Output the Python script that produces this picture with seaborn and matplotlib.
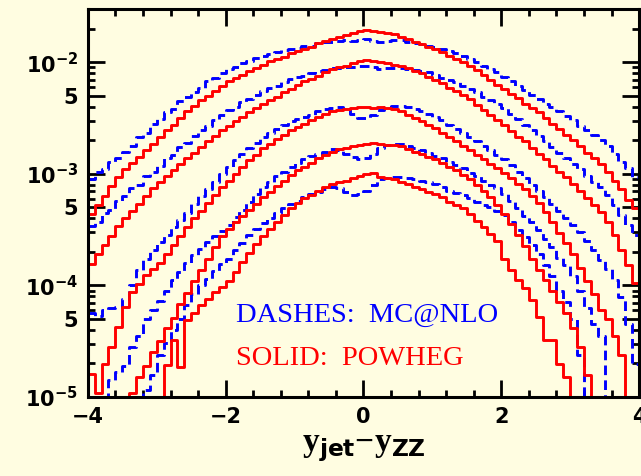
import numpy as np
import matplotlib
matplotlib.use("Agg")
import matplotlib.pyplot as plt
import seaborn as sns
from matplotlib.ticker import FixedLocator, FixedFormatter

# log10 of bin contents, 80 bins of width 0.1 on [-4, 4]; EMPTY = no entries
EMPTY = -9.0

powheg_1 = [-3.36, -3.28, -3.20, -3.11, -3.03, -2.96, -2.90, -2.85, -2.79, -2.73,
            -2.67, -2.61, -2.56, -2.50, -2.44, -2.39, -2.34, -2.30, -2.26, -2.21,
            -2.17, -2.14, -2.11, -2.08, -2.05, -2.02, -1.99, -1.97, -1.95, -1.92,
            -1.90, -1.88, -1.86, -1.83, -1.81, -1.79, -1.77, -1.76, -1.74, -1.72,
            -1.71, -1.72, -1.73, -1.74, -1.75, -1.77, -1.79, -1.82, -1.84, -1.86,
            -1.88, -1.91, -1.94, -1.97, -2.00, -2.03, -2.07, -2.11, -2.16, -2.20,
            -2.24, -2.28, -2.32, -2.37, -2.41, -2.45, -2.50, -2.55, -2.60, -2.65,
            -2.70, -2.75, -2.81, -2.86, -2.91, -2.98, -3.06, -3.14, -3.23, -3.31]
mcnlo_1 = [-3.05, -2.98, -2.96, -2.89, -2.86, -2.80, -2.75, -2.67, -2.63, -2.55,
           -2.51, -2.45, -2.42, -2.35, -2.31, -2.27, -2.23, -2.17, -2.14, -2.10,
           -2.06, -2.04, -2.01, -1.99, -1.96, -1.94, -1.93, -1.91, -1.89, -1.88,
           -1.87, -1.85, -1.85, -1.83, -1.82, -1.82, -1.81, -1.80, -1.81, -1.80,
           -1.79, -1.81, -1.82, -1.81, -1.80, -1.80, -1.82, -1.83, -1.84, -1.85,
           -1.86, -1.88, -1.90, -1.92, -1.94, -1.97, -2.00, -2.03, -2.06, -2.09,
           -2.13, -2.17, -2.21, -2.25, -2.29, -2.33, -2.37, -2.40, -2.44, -2.48,
           -2.52, -2.57, -2.61, -2.65, -2.70, -2.75, -2.82, -2.89, -2.95, -3.03]
powheg_2 = [-3.81, -3.72, -3.64, -3.56, -3.47, -3.40, -3.33, -3.27, -3.20, -3.13,
            -3.07, -3.02, -2.97, -2.91, -2.86, -2.81, -2.76, -2.71, -2.66, -2.61,
            -2.57, -2.53, -2.49, -2.45, -2.41, -2.37, -2.34, -2.31, -2.27, -2.24,
            -2.20, -2.17, -2.15, -2.12, -2.09, -2.06, -2.04, -2.03, -2.01, -1.99,
            -1.98, -1.99, -2.00, -2.01, -2.02, -2.03, -2.05, -2.08, -2.10, -2.13,
            -2.16, -2.19, -2.23, -2.26, -2.29, -2.33, -2.38, -2.43, -2.47, -2.52,
            -2.56, -2.62, -2.67, -2.71, -2.77, -2.82, -2.87, -2.93, -2.98, -3.03,
            -3.09, -3.15, -3.22, -3.28, -3.34, -3.43, -3.55, -3.68, -3.82, -3.98]
mcnlo_2 = [-3.47, -3.43, -3.35, -3.32, -3.24, -3.20, -3.13, -3.10, -3.02, -2.98,
           -2.93, -2.86, -2.83, -2.76, -2.72, -2.66, -2.61, -2.57, -2.52, -2.47,
           -2.43, -2.40, -2.36, -2.33, -2.29, -2.26, -2.23, -2.21, -2.18, -2.15,
           -2.13, -2.12, -2.10, -2.08, -2.07, -2.05, -2.05, -2.04, -2.04, -2.03,
           -2.03, -2.04, -2.06, -2.05, -2.05, -2.05, -2.06, -2.07, -2.08, -2.09,
           -2.11, -2.14, -2.16, -2.18, -2.21, -2.24, -2.27, -2.31, -2.34, -2.37,
           -2.41, -2.46, -2.51, -2.56, -2.61, -2.66, -2.71, -2.76, -2.81, -2.86,
           -2.91, -2.96, -3.02, -3.07, -3.12, -3.19, -3.28, -3.37, -3.46, -3.55]
powheg_3 = [-4.79, -4.96, -4.70, -4.55, -4.37, -4.19, -4.06, -3.99, -3.91, -3.85,
            -3.80, -3.72, -3.64, -3.56, -3.48, -3.40, -3.33, -3.26, -3.19, -3.12,
            -3.06, -3.00, -2.94, -2.88, -2.83, -2.77, -2.73, -2.69, -2.65, -2.61,
            -2.58, -2.55, -2.52, -2.49, -2.46, -2.44, -2.43, -2.42, -2.41, -2.40,
            -2.40, -2.41, -2.40, -2.41, -2.42, -2.44, -2.47, -2.50, -2.53, -2.56,
            -2.59, -2.63, -2.67, -2.71, -2.75, -2.79, -2.83, -2.87, -2.91, -2.95,
            -2.99, -3.04, -3.09, -3.14, -3.20, -3.26, -3.34, -3.43, -3.53, -3.62,
            -3.72, -3.84, -3.96, -4.08, -4.22, -4.30, -4.45, -4.62, EMPTY, EMPTY]
mcnlo_3 = [-4.25, -4.27, -4.22, -4.20, -4.19, -4.12, -4.00, -3.86, -3.76, -3.68,
           -3.61, -3.55, -3.48, -3.41, -3.35, -3.27, -3.20, -3.14, -3.07, -3.00,
           -2.94, -2.88, -2.82, -2.77, -2.72, -2.67, -2.63, -2.60, -2.56, -2.53,
           -2.51, -2.49, -2.47, -2.44, -2.42, -2.41, -2.40, -2.42, -2.46, -2.50,
           -2.50, -2.47, -2.43, -2.40, -2.39, -2.39, -2.40, -2.42, -2.44, -2.46,
           -2.49, -2.52, -2.56, -2.60, -2.63, -2.67, -2.71, -2.75, -2.79, -2.83,
           -2.87, -2.92, -2.98, -3.04, -3.10, -3.15, -3.21, -3.27, -3.33, -3.40,
           -3.46, -3.52, -3.60, -3.68, -3.77, -3.85, -3.95, -4.10, -4.35, -4.70]
powheg_4 = [EMPTY, EMPTY, EMPTY, EMPTY, EMPTY, EMPTY, -4.96, -4.82, -4.72, -4.60,
            -4.50, -4.38, -4.29, -4.17, -4.07, -3.96, -3.86, -3.76, -3.66, -3.56,
            -3.49, -3.43, -3.38, -3.32, -3.27, -3.21, -3.16, -3.11, -3.06, -3.01,
            -2.97, -2.94, -2.90, -2.86, -2.83, -2.80, -2.78, -2.77, -2.75, -2.74,
            -2.73, -2.72, -2.73, -2.74, -2.74, -2.75, -2.78, -2.80, -2.82, -2.85,
            -2.87, -2.90, -2.94, -2.97, -3.01, -3.05, -3.10, -3.15, -3.21, -3.28,
            -3.36, -3.45, -3.55, -3.65, -3.76, -3.86, -3.95, -4.05, -4.15, -4.25,
            -4.38, -4.55, -4.80, EMPTY, EMPTY, EMPTY, EMPTY, EMPTY, EMPTY, EMPTY]
mcnlo_4 = [EMPTY, EMPTY, EMPTY, -4.85, -4.78, -4.72, -4.55, -4.45, -4.30, -4.22,
           -4.14, -4.05, -3.95, -3.88, -3.80, -3.73, -3.67, -3.61, -3.56, -3.51,
           -3.46, -3.39, -3.32, -3.25, -3.18, -3.12, -3.07, -3.02, -2.98, -2.94,
           -2.90, -2.87, -2.84, -2.82, -2.80, -2.78, -2.79, -2.82, -2.85, -2.87,
           -2.86, -2.82, -2.77, -2.74, -2.73, -2.73, -2.75, -2.77, -2.79, -2.81,
           -2.84, -2.86, -2.89, -2.92, -2.95, -2.99, -3.02, -3.06, -3.10, -3.13,
           -3.18, -3.24, -3.31, -3.38, -3.43, -3.50, -3.58, -3.66, -3.75, -3.82,
           -3.92, -4.05, -4.20, -4.35, -4.45, EMPTY, EMPTY, EMPTY, EMPTY, EMPTY]
powheg_5 = [EMPTY, EMPTY, EMPTY, EMPTY, EMPTY, EMPTY, EMPTY, EMPTY, EMPTY, EMPTY,
            EMPTY, -4.71, -4.49, -4.73, -4.31, -4.25, -4.18, -4.12, -4.06, -4.01,
            -3.96, -3.88, -3.79, -3.71, -3.63, -3.56, -3.49, -3.43, -3.37, -3.31,
            -3.26, -3.22, -3.19, -3.15, -3.12, -3.09, -3.07, -3.06, -3.04, -3.02,
            -3.00, -2.99, -3.03, -3.04, -3.05, -3.07, -3.09, -3.12, -3.14, -3.16,
            -3.18, -3.21, -3.25, -3.28, -3.31, -3.36, -3.42, -3.48, -3.54, -3.60,
            -3.76, -3.86, -3.95, -4.02, -4.13, -4.28, -4.49, -4.49, -4.70, -4.82,
            EMPTY, EMPTY, EMPTY, EMPTY, EMPTY, EMPTY, EMPTY, EMPTY, EMPTY, EMPTY]
mcnlo_5 = [EMPTY, EMPTY, EMPTY, EMPTY, EMPTY, EMPTY, EMPTY, EMPTY, -4.94, -4.80,
           -4.62, -4.52, -4.40, -4.30, -4.18, -4.08, -4.00, -3.94, -3.87, -3.81,
           -3.76, -3.68, -3.62, -3.55, -3.49, -3.44, -3.40, -3.35, -3.31, -3.27,
           -3.24, -3.21, -3.18, -3.16, -3.14, -3.12, -3.13, -3.16, -3.19, -3.18,
           -3.15, -3.10, -3.05, -3.04, -3.03, -3.03, -3.04, -3.05, -3.06, -3.07,
           -3.09, -3.12, -3.15, -3.17, -3.19, -3.22, -3.25, -3.28, -3.30, -3.33,
           -3.37, -3.43, -3.50, -3.57, -3.64, -3.72, -3.82, -3.92, -4.05, -4.15,
           -4.30, -4.62, EMPTY, EMPTY, EMPTY, EMPTY, EMPTY, EMPTY, EMPTY, EMPTY]

powheg = [powheg_1, powheg_2, powheg_3, powheg_4, powheg_5]
mcnlo = [mcnlo_1, mcnlo_2, mcnlo_3, mcnlo_4, mcnlo_5]

edges = np.linspace(-4, 4, 81)
bg = "#fffde1"

sns.set_theme(style="ticks")
plt.rcParams["font.family"] = ["DejaVu Sans"]
plt.rcParams["font.weight"] = "bold"
plt.rcParams["text.color"] = "black"
plt.rcParams["mathtext.fontset"] = "custom"
plt.rcParams["mathtext.rm"] = "Liberation Serif"
plt.rcParams["mathtext.bf"] = "DejaVu Sans:bold"

fig = plt.figure(figsize=(6.41, 4.76), dpi=100, facecolor=bg)
ax = fig.add_axes([0.137, 0.166, 0.860, 0.815])
ax.set_facecolor(bg)

# MC@NLO dashed first, POWHEG solid on top
for vals in mcnlo:
    y = 10.0 ** np.append(vals, vals[-1])
    sns.lineplot(x=edges, y=y, drawstyle="steps-post", color="#0000ff",
                 linestyle=(0, (3.3, 1.8)), lw=2.1, sort=False,
                 estimator=None, ax=ax)
for vals in powheg:
    y = 10.0 ** np.append(vals, vals[-1])
    sns.lineplot(x=edges, y=y, drawstyle="steps-post", color="#ff0000",
                 lw=2.1, sort=False, estimator=None, ax=ax)

ax.set_yscale("log")
ax.set_xlim(-4, 4)
ax.set_ylim(1e-5, 3e-2)

ax.set_xticks([-4, -2, 0, 2, 4])
ax.set_xticklabels(["\u22124", "\u22122", "0", "2", "4"])
ax.xaxis.set_minor_locator(FixedLocator(np.arange(-4, 4.01, 0.4)))

major_y = [1e-5, 5e-5, 1e-4, 5e-4, 1e-3, 5e-3, 1e-2]
major_lbl = [r"$\mathbf{10^{-5}}$", "5", r"$\mathbf{10^{-4}}$", "5",
             r"$\mathbf{10^{-3}}$", "5", r"$\mathbf{10^{-2}}$"]
ax.yaxis.set_major_locator(FixedLocator(major_y))
ax.yaxis.set_major_formatter(FixedFormatter(major_lbl))
minor_y = [m * 10.0 ** e for e in range(-5, -1) for m in (2, 3, 4, 6, 7, 8, 9)]
ax.yaxis.set_minor_locator(FixedLocator(minor_y))
ax.yaxis.set_minor_formatter(FixedFormatter([""] * len(minor_y)))

ax.tick_params(which="both", direction="in", top=True, right=True,
               width=2, color="black", labelcolor="black", labelsize=15)
ax.tick_params(which="major", length=12, pad=7)
ax.tick_params(which="minor", length=5)
for s in ax.spines.values():
    s.set_linewidth(2.2)
    s.set_color("black")

ax.set_xlabel(r"$\mathrm{y}_{\mathbf{jet}}\mathrm{-y}_{\mathbf{ZZ}}$",
              fontsize=24, labelpad=3, color="black")
ax.set_ylabel("")

ax.text(-1.85, 10 ** -4.33, "DASHES:  MC@NLO", color="#0000ff",
        fontsize=20.5, family="Liberation Serif", fontweight="normal",
        va="baseline")
ax.text(-1.85, 10 ** -4.71, "SOLID:  POWHEG", color="#ff0000",
        fontsize=20.5, family="Liberation Serif", fontweight="normal",
        va="baseline")

fig.savefig("out.png", dpi=100, facecolor=bg)
